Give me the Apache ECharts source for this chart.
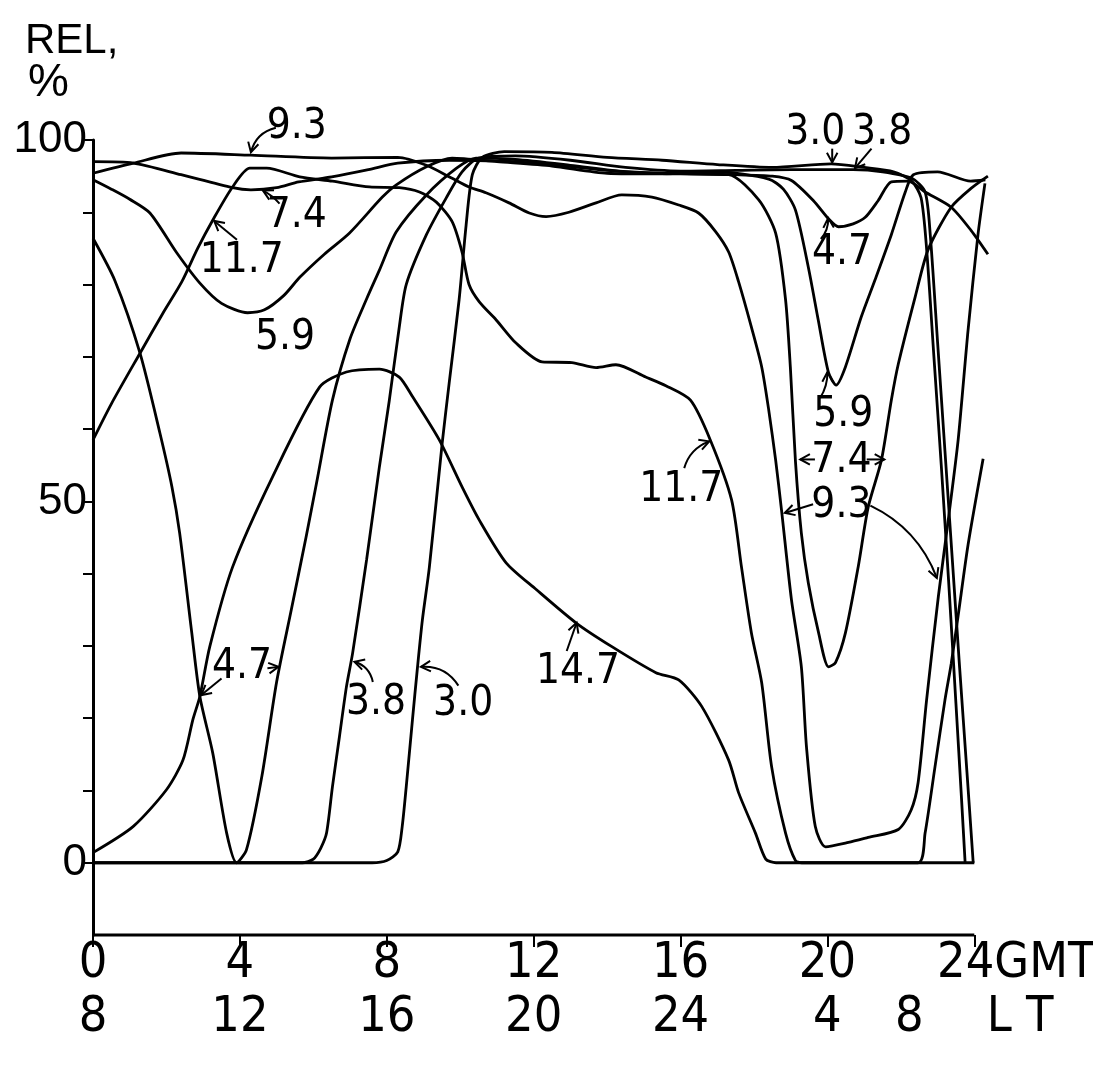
<!DOCTYPE html>
<html>
<head>
<meta charset="utf-8">
<script src="https://cdn.jsdelivr.net/npm/echarts@6/dist/echarts.min.js"></script>
<style>
  html, body { margin: 0; padding: 0; background: #fff; }
  #chart { width: 1093px; height: 1074px; }
</style>
</head>
<body>
<div id="chart"></div>
<script>
// Relative reliability (%) of each frequency (MHz) over the day, [GMT hour, percent]
const freqs = ['3.0', '3.8', '4.7', '5.9', '7.4', '9.3', '11.7', '14.7'];

const rel30 = [[0,0],[7.6,0],[8.0,0.3],[8.3,1.5],[8.42,5],[8.53,10.5],[8.7,19.8],[8.83,26.7],[8.97,33.6],[9.16,40.9],[9.51,58.1],[9.7,66.4],[9.97,77.9],[10.16,88.2],[10.33,95.2],[10.6,97.6],[11.2,98.4],[12.5,98.3],[14,97.6],[15.5,97.2],[17,96.6],[18.5,96.2],[20.1,96.7],[21,96.2],[21.8,95.6],[22.3,94.3],[22.55,92],[22.7,85],[22.9,70],[23.1,55],[23.3,39],[23.5,22],[23.65,9],[23.75,0]];

const rel38 = [[0,0],[5.7,0],[6.0,0.5],[6.2,2],[6.36,4.1],[6.52,10.5],[6.71,17.4],[6.9,24.3],[7.07,29],[7.45,41.9],[7.8,54.8],[8.07,64],[8.34,74.1],[8.53,80],[9.08,86.9],[9.62,92],[10.05,95.6],[10.5,97.5],[11.5,97.8],[13,97.2],[14.5,96.2],[16,95.7],[17.5,95.8],[19,95.9],[20.7,95.9],[21.5,95.6],[22.3,94.7],[22.66,92.8],[22.8,86.9],[23.0,72],[23.2,57],[23.4,42],[23.6,27],[23.8,12.5],[23.97,0]];

const rel47 = [[0,86.4],[0.6,80.5],[1.28,70.5],[1.82,59.5],[2.15,52],[2.36,45.6],[2.69,31.8],[2.91,23],[3.26,15.2],[3.64,4.1],[3.91,0],[4.18,1.8],[4.6,12],[5.0,25],[5.4,35],[5.8,45],[6.09,52.6],[6.52,64],[7.0,72.5],[7.45,78],[7.8,82],[8.26,87.3],[9.08,92.4],[9.9,96.1],[10.43,97.5],[11.5,97.3],[13,96.5],[14.5,95.6],[16,95.3],[17.5,95.2],[18.5,95],[19.02,94.4],[19.62,91.6],[20.03,89.1],[20.3,88.0],[20.7,88.4],[21.03,89.3],[21.38,91.6],[21.74,94.2],[22.2,94.3],[22.66,92.8],[23.37,90.7],[23.91,87.5],[24.37,84.2]];

const rel59 = [[0,94.5],[0.5,93.2],[1.0,91.8],[1.55,89.9],[2.28,84.4],[2.91,80.2],[3.5,77.4],[4.21,76.1],[4.67,76.5],[5.2,78.5],[5.63,81],[6.3,84.2],[6.98,87.1],[7.88,92.1],[8.26,93.8],[9.08,96.3],[9.78,97.5],[11,97],[12.5,96.4],[14,95.4],[15.5,95.3],[17,95.6],[18.4,94.6],[18.8,93.2],[19.13,90.3],[19.48,82.4],[19.75,75.1],[20.03,67.8],[20.24,66.1],[20.49,68.6],[20.92,75.5],[21.3,80.7],[21.74,86.9],[22.12,92.8],[22.34,95.2],[23,95.6],[23.9,94.3],[24.3,94.5]];

const rel74 = [[0,97],[1.1,96.8],[2.4,95.2],[3.8,93.4],[4.3,93.1],[5.0,93.4],[5.6,94.2],[6.5,94.9],[7.5,95.9],[8.3,96.8],[9.7,97.2],[11,97.1],[12.5,96.6],[14,95.8],[15.5,95.4],[17.31,95.2],[18.13,91.7],[18.59,87.1],[18.86,77.9],[18.99,68.6],[19.13,55.5],[19.29,45.6],[19.48,38.7],[19.76,31.8],[20.03,27.1],[20.22,27.7],[20.49,31.8],[20.84,41],[21.11,49.2],[21.47,55.7],[21.74,64],[21.93,69],[22.39,78.3],[22.74,84.8],[23.37,90.7],[23.91,93.3],[24.37,95]];

const rel93 = [[0,95.4],[1.1,96.8],[2.4,98.2],[4.3,97.9],[6.5,97.5],[8.3,97.6],[9.08,96.5],[9.78,94.7],[10.24,93.5],[10.7,92.7],[11.33,91.3],[11.88,89.9],[12.34,89.4],[12.96,90],[13.7,91.3],[14.4,92.4],[15.22,92.1],[15.95,91],[16.49,89.9],[16.96,87.3],[17.31,84.5],[17.58,80.4],[17.93,74.1],[18.21,68.6],[18.4,62.7],[18.59,55.7],[18.75,48.8],[19.02,36.4],[19.29,27.1],[19.43,16],[19.67,5],[19.95,2.2],[20.57,2.8],[21.11,3.5],[21.93,4.6],[22.28,7.3],[22.47,11.1],[22.7,22.5],[23.02,36.8],[23.29,47.4],[23.56,58.5],[23.83,73.7],[24.1,86.9],[24.29,94]];

const rel117 = [[0,58.5],[0.5,63.5],[1.28,70.5],[1.9,76],[2.42,80.4],[2.85,85],[3.26,88.9],[3.8,93.5],[4.27,96.1],[4.73,96.1],[5.63,94.9],[6.52,94.3],[7.53,93.5],[8.34,93.4],[8.89,92.8],[9.35,91.4],[9.78,88.7],[10.05,84.5],[10.24,80],[10.52,77.6],[10.98,75.1],[11.52,71.9],[12.23,69.3],[13.04,69.2],[13.7,68.5],[14.24,68.9],[15.05,67.2],[15.6,66],[16.27,64],[16.81,58.5],[17.39,50.2],[17.66,40.9],[17.93,31.8],[18.21,24.9],[18.48,13.3],[18.86,4.1],[19.13,0.3],[19.3,0],[22.47,0],[22.66,4.1],[22.93,13.3],[23.2,22.5],[23.37,27.5],[23.56,34.2],[23.83,44],[24.24,55.9]];

const rel147 = [[0,1.4],[1.09,5],[2.0,10.1],[2.45,14.2],[2.72,19.8],[2.91,23],[3.18,29.9],[3.8,40.9],[4.89,53.4],[6.17,65.8],[6.9,67.9],[7.8,68.3],[8.34,67.2],[8.7,64.5],[9.43,58.5],[10.05,52],[10.52,47.4],[11.25,41.5],[12.07,37.8],[13.15,33.2],[14.13,29.9],[15.33,26.3],[15.95,25.3],[16.58,21.6],[17.31,14.2],[17.58,9.7],[18.04,4.1],[18.32,0.5],[18.6,0],[24,0]];

const curves = [rel30, rel38, rel47, rel59, rel74, rel93, rel117, rel147];

// Tick labels: GMT hours and the matching local time
const hourTicks = [0, 4, 8, 12, 16, 20, 24];
const gmtTicks = ['0', '4', '8', '12', '16', '20', '24'];
const ltTicks  = ['8', '12', '16', '20', '24', '4', '8'];
const relTicks = [0, 50, 100];
const relMinor = [0, 10, 20, 30, 40, 50, 60, 70, 80, 90, 100];

// Frequency call-outs: label position and arrow(s) in [hour, percent]
const notes = [
  { text: '9.3',  at: [5.55, 101.8], arrows: [{ from: [4.98, 101.7], to: [4.30, 98.3], bend: 0.3 }] },
  { text: '7.4',  at: [5.55, 89.5],  arrows: [{ from: [5.08, 91.2], to: [4.63, 93.0], bend: 0.1 }] },
  { text: '11.7', at: [4.05, 83.2],  arrows: [{ from: [3.92, 86.2], to: [3.30, 88.8], bend: 0 }] },
  { text: '5.9',  at: [5.23, 72.6],  arrows: [] },
  { text: '4.7',  at: [4.06, 27.1],  arrows: [{ from: [3.50, 25.5], to: [2.95, 23.2], bend: 0 },
                                              { from: [4.75, 26.9], to: [5.05, 27.1], bend: 0 }] },
  { text: '3.8',  at: [7.71, 22.1],  arrows: [{ from: [7.62, 25.0], to: [7.12, 27.8], bend: 0.3 }] },
  { text: '3.0',  at: [10.08, 22.0], arrows: [{ from: [9.95, 24.5], to: [8.93, 27.1], bend: 0.3 }] },
  { text: '14.7', at: [13.21, 26.4], arrows: [{ from: [12.9, 29.3], to: [13.17, 33.2], bend: 0 }] },
  { text: '11.7', at: [16.02, 51.6], arrows: [{ from: [16.1, 54.6], to: [16.78, 58.3], bend: -0.25 }] },
  { text: '5.9',  at: [20.43, 62.0], arrows: [{ from: [19.80, 64.3], to: [20.0, 67.9], bend: 0.15 }] },
  { text: '7.4',  at: [20.38, 55.6], arrows: [{ from: [19.66, 55.8], to: [19.26, 55.8], bend: 0 },
                                              { from: [21.07, 55.8], to: [21.55, 55.8], bend: 0 }] },
  { text: '9.3',  at: [20.38, 49.4], arrows: [{ from: [19.61, 49.6], to: [18.84, 48.4], bend: 0 },
                                              { from: [21.17, 49.4], to: [22.98, 39.4], bend: -0.2 }] },
  { text: '3.0',  at: [19.67, 101.0], arrows: [{ from: [20.13, 98.8], to: [20.13, 96.9], bend: 0 }] },
  { text: '3.8',  at: [21.49, 101.0], arrows: [{ from: [21.2, 98.8], to: [20.75, 96.1], bend: 0 }] },
  { text: '4.7',  at: [20.40, 84.3], arrows: [{ from: [19.82, 86.3], to: [20.02, 89.2], bend: 0.2 }] }
];

const INK = '#000';
const NARROW = '"Liberation Sans Narrow", "DejaVu Sans Condensed", "Liberation Sans", sans-serif';
const REGULAR = '"Liberation Sans", "DejaVu Sans", sans-serif';

// The time axis runs a little past 24 h so the closing strokes of the
// curves stay visible; its drawn line and ticks stop at 24 h.
const X_END = 24.4;

const chart = echarts.init(document.getElementById('chart'), null, { renderer: 'canvas' });

const option = {
  backgroundColor: '#fff',
  animation: false,
  grid: { left: 93, right: 104, top: 140, bottom: 139, containLabel: false, outerBoundsMode: 'none' },
  xAxis: [
    {
      type: 'value', min: 0, max: X_END, position: 'bottom',
      axisLine: { show: false, onZero: false },
      axisTick: { show: true, length: 12, customValues: hourTicks, lineStyle: { color: INK, width: 2 } },
      splitLine: { show: false },
      axisLabel: {
        customValues: hourTicks,
        margin: 4, color: INK, fontFamily: NARROW, fontSize: 50,
        formatter: v => {
          const t = gmtTicks[hourTicks.indexOf(v)];
          return v === 24 ? '{n|' + t + '}{u|GMT}' : t;
        },
        rich: {
          n: { fontFamily: NARROW, fontSize: 50, color: INK, padding: [0, 0, 0, 84] },
          u: { fontFamily: NARROW, fontSize: 50, color: INK }
        }
      }
    },
    {
      type: 'value', min: 0, max: X_END, position: 'bottom', offset: 54,
      axisLine: { show: false }, axisTick: { show: false }, splitLine: { show: false },
      axisLabel: {
        customValues: hourTicks,
        margin: 4, color: INK, fontFamily: NARROW, fontSize: 50,
        formatter: v => {
          const t = ltTicks[hourTicks.indexOf(v)];
          return v === 24 ? '{n|' + t + '}{u|L T}' : t;
        },
        rich: {
          n: { fontFamily: NARROW, fontSize: 50, color: INK },
          u: { fontFamily: NARROW, fontSize: 50, color: INK, padding: [0, 0, 0, 63] }
        }
      }
    }
  ],
  yAxis: {
    type: 'value', min: -10, max: 100,
    axisLine: { show: true, lineStyle: { color: INK, width: 3 } },
    axisTick: { show: true, length: 10, customValues: relMinor, lineStyle: { color: INK, width: 2 } },
    axisLabel: { customValues: relTicks, margin: 6, color: INK, fontFamily: REGULAR, fontSize: 44 },
    splitLine: { show: false }
  },
  series: curves.map((d, i) => ({
    name: freqs[i] + ' MHz',
    type: 'line',
    data: d,
    xAxisIndex: 0,
    yAxisIndex: 0,
    showSymbol: false,
    smooth: 0.25,
    clip: false,
    silent: true,
    lineStyle: { color: INK, width: 2.8 }
  }))
};

chart.setOption(option);

// Time axis line, call-out labels and hand-style arrows, placed through the axes
function overlayElements() {
  const els = [];
  const toPx = p => chart.convertToPixel({ xAxisIndex: 0, yAxisIndex: 0 }, p);

  const a0 = toPx([0, -10]), a1 = toPx([24, -10]);
  els.push({ type: 'line', silent: true,
             shape: { x1: a0[0], y1: a0[1], x2: a1[0], y2: a1[1] },
             style: { stroke: INK, lineWidth: 3 } });

  notes.forEach(n => {
    const c = toPx(n.at);
    els.push({
      type: 'text', x: c[0], y: c[1], silent: true,
      style: { text: n.text, fill: INK, fontSize: 42, fontFamily: NARROW,
               align: 'center', verticalAlign: 'middle', textAlign: 'center', textVerticalAlign: 'middle' }
    });
    n.arrows.forEach(a => {
      const p0 = toPx(a.from), p1 = toPx(a.to);
      const dx = p1[0] - p0[0], dy = p1[1] - p0[1];
      const cp = [(p0[0] + p1[0]) / 2 - dy * a.bend, (p0[1] + p1[1]) / 2 + dx * a.bend];
      els.push({
        type: 'bezierCurve', silent: true,
        shape: { x1: p0[0], y1: p0[1], x2: p1[0], y2: p1[1], cpx1: cp[0], cpy1: cp[1] },
        style: { stroke: INK, lineWidth: 2, fill: null }
      });
      let tx = p1[0] - cp[0], ty = p1[1] - cp[1];
      const tl = Math.hypot(tx, ty) || 1; tx /= tl; ty /= tl;
      const hs = 11, ang = 0.5;
      const wing = s => [p1[0] - hs * (tx * Math.cos(s * ang) - ty * Math.sin(s * ang)),
                         p1[1] - hs * (ty * Math.cos(s * ang) + tx * Math.sin(s * ang))];
      els.push({
        type: 'polyline', silent: true,
        shape: { points: [wing(1), p1, wing(-1)] },
        style: { stroke: INK, lineWidth: 2, fill: null }
      });
    });
  });

  // axis caption
  els.push({ type: 'text', left: 25, top: 20, silent: true,
             style: { text: 'REL,', fill: INK, fontSize: 42, fontFamily: REGULAR } });
  els.push({ type: 'text', left: 28, top: 60, silent: true,
             style: { text: '%', fill: INK, fontSize: 46, fontFamily: REGULAR } });
  return els;
}

chart.setOption({ graphic: { elements: overlayElements() } });
</script>
</body>
</html>
